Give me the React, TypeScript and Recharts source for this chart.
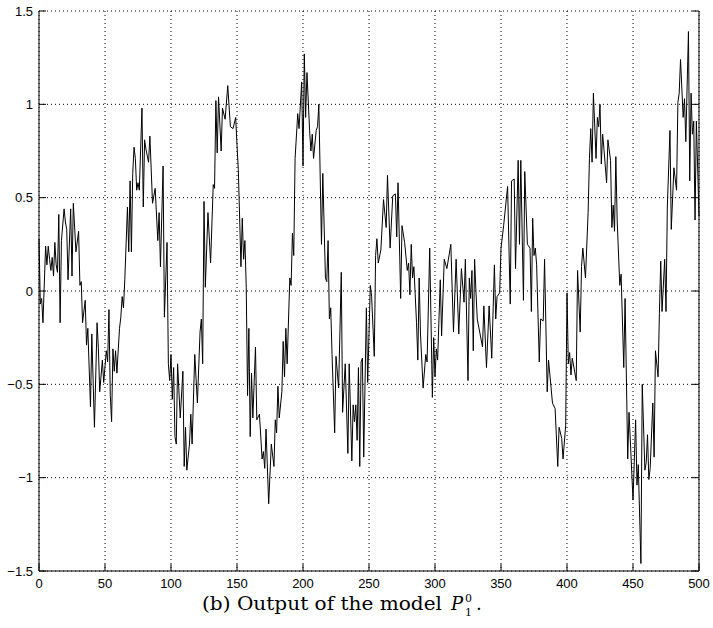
import { CartesianGrid, Line, LineChart, XAxis, YAxis } from "recharts";

// sample index (x) and model output (y)
const SAMPLE_T = [
  0, 1, 2, 3, 5, 6, 7, 8, 9, 10, 11, 12, 13, 14, 15, 16, 17, 19, 20, 21, 22, 24, 25, 26, 28, 30, 31, 32, 33, 35,
  36, 37, 39, 40, 42, 44, 45, 46, 48, 49, 51, 52, 53, 54, 55, 56, 57, 58, 59, 61, 62, 63, 64, 65, 67, 68, 69, 70,
  71, 72, 73, 74, 75, 76, 78, 79, 80, 81, 83, 84, 86, 88, 90, 91, 92, 94, 95, 97, 98, 99, 100, 101, 102, 103, 104,
  105, 107, 109, 110, 111, 112, 114, 115, 116, 118, 120, 122, 123, 124, 125, 126, 128, 130, 132, 133, 134, 135,
  136, 138, 139, 141, 143, 145, 147, 149, 150, 151, 153, 154, 155, 156, 157, 158, 159, 160, 161, 162, 164, 165,
  167, 169, 170, 171, 172, 174, 176, 178, 179, 180, 181, 182, 184, 185, 186, 187, 188, 190, 191, 192, 193, 194,
  196, 197, 199, 200, 201, 202, 203, 205, 206, 207, 208, 210, 211, 212, 214, 215, 217, 218, 219, 220, 221, 222,
  224, 225, 227, 229, 230, 232, 234, 235, 237, 238, 239, 240, 241, 242, 243, 244, 245, 246, 248, 249, 251, 252,
  254, 255, 256, 257, 259, 261, 263, 264, 266, 268, 270, 271, 272, 274, 275, 277, 279, 280, 281, 282, 283, 284,
  286, 287, 288, 289, 291, 293, 294, 296, 298, 299, 300, 301, 302, 304, 305, 307, 309, 312, 314, 316, 318, 320,
  322, 323, 325, 326, 327, 328, 329, 330, 331, 332, 336, 337, 339, 341, 343, 345, 346, 347, 349, 350, 352, 355,
  357, 358, 360, 361, 363, 364, 365, 367, 368, 370, 372, 373, 374, 375, 376, 377, 379, 380, 382, 383, 385, 386,
  389, 391, 393, 394, 396, 397, 399, 400, 401, 402, 403, 404, 407, 408, 410, 411, 412, 414, 416, 417, 418, 419,
  420, 422, 423, 424, 425, 426, 427, 428, 430, 431, 433, 434, 435, 436, 437, 438, 440, 441, 443, 444, 446, 447,
  450, 452, 453, 454, 456, 457, 459, 460, 461, 462, 463, 465, 466, 467, 469, 470, 471, 472, 474, 475, 476, 478,
  479, 481, 483, 484, 485, 486, 488, 489, 490, 492, 493, 494, 495, 496, 497, 498, 500,
];

const OUTPUT = [
  0.28, -0.07, -0.04, -0.17, 0.24, 0.14, 0.24, 0.17, 0.11, 0.18, 0.08, 0.26, 0.14, 0.1, 0.41, -0.17, 0.27, 0.44,
  0.37, 0.33, 0.06, 0.44, 0.08, 0.47, 0.21, 0.32, 0.03, 0.05, -0.17, -0.05, -0.29, -0.2, -0.62, -0.23, -0.73,
  -0.17, -0.31, -0.54, -0.37, -0.49, -0.32, -0.38, -0.1, -0.56, -0.7, -0.31, -0.43, -0.32, -0.44, -0.2, -0.14,
  -0.03, -0.09, 0.06, 0.45, 0.21, 0.59, 0.21, 0.63, 0.77, 0.71, 0.54, 0.58, 0.54, 0.98, 0.45, 0.81, 0.76, 0.69,
  0.83, 0.47, 0.55, 0.27, 0.42, 0.13, 0.67, -0.14, 0.26, -0.39, -0.48, -0.34, -0.58, -0.41, -0.78, -0.82, -0.39,
  -0.68, -0.43, -0.94, -0.73, -0.96, -0.82, -0.66, -0.82, -0.34, -0.6, -0.22, -0.15, -0.39, 0.48, 0.02, 0.42,
  0.15, 0.57, 0.55, 1.02, 0.74, 1.04, 0.75, 0.98, 0.92, 1.1, 0.88, 0.87, 0.93, 0.78, 0.65, 0.13, 0.39, 0.17, 0.27,
  0.02, -0.56, -0.2, -0.78, -0.44, -0.68, -0.3, -0.69, -0.66, -0.9, -0.86, -0.95, -0.74, -1.14, -0.82, -0.94,
  -0.69, -0.76, -0.51, -0.68, -0.54, -0.27, -0.46, -0.2, -0.39, 0.07, 0.03, 0.31, 0.19, 0.71, 0.95, 0.87, 1.12,
  0.67, 1.27, 0.93, 1.17, 0.86, 0.75, 0.84, 0.71, 0.86, 0.88, 1.0, 0.25, 0.63, 0.07, 0.05, 0.27, -0.15, -0.09,
  -0.34, -0.76, -0.35, -0.52, 0.1, -0.65, -0.39, -0.87, -0.39, -0.91, -0.61, -0.7, -0.61, -0.8, -0.41, -0.94,
  -0.38, -0.36, -0.89, -0.09, -0.49, 0.03, -0.03, -0.35, 0.19, 0.28, 0.15, 0.22, 0.49, 0.34, 0.62, 0.23, 0.51,
  0.52, 0.29, 0.58, -0.04, 0.35, 0.26, 0.11, 0.15, -0.02, 0.25, 0.07, 0.13, -0.17, -0.37, 0.07, -0.23, -0.52,
  -0.34, -0.38, 0.23, -0.57, -0.25, -0.46, -0.31, -0.37, 0.06, -0.24, 0.17, 0.12, 0.25, -0.22, 0.17, -0.23, 0.12,
  -0.06, 0.17, -0.48, 0.07, -0.04, 0.11, -0.32, 0.17, 0, -0.15, -0.3, -0.08, -0.41, -0.08, -0.36, 0.14, -0.15,
  -0.03, -0.01, 0.23, 0.35, 0.56, -0.07, 0.59, 0.6, 0.12, 0.7, 0.25, 0.7, -0.05, 0.64, 0.25, 0.23, -0.11, 0.39,
  0.19, 0.23, 0.14, -0.38, -0.15, -0.16, 0.17, -0.54, -0.37, -0.6, -0.63, -0.94, -0.73, -0.79, -0.9, -0.72, -0.01,
  -0.39, -0.33, -0.45, -0.36, -0.48, 0.11, -0.22, 0.13, 0.23, 0.07, 0.42, 0.71, 0.87, 0.69, 1.06, 0.71, 0.93, 0.88,
  1.0, 0.68, 0.84, 0.76, 0.58, 0.81, 0.7, 0.34, 0.46, 0.32, 0.72, 0.38, 0.03, 0.09, -0.41, -0.04, -0.9, -0.65,
  -1.12, -0.69, -1.04, -0.93, -1.46, -0.5, -0.96, -0.92, -0.77, -1.01, -0.95, -0.6, -0.89, -0.32, -0.46, -0.12,
  0.16, -0.11, 0.17, -0.11, 0.45, 0.86, 0.33, 0.66, 0.54, 1.01, 1.06, 1.24, 0.93, 1.03, 0.8, 1.39, 0.59, 1.06, 0.84,
  0.91, 0.38, 0.91, 0.4,
];

const X_TICKS = [0, 50, 100, 150, 200, 250, 300, 350, 400, 450, 500];
const Y_TICKS = [-1.5, -1, -0.5, 0, 0.5, 1, 1.5];

const data = SAMPLE_T.map((t, i) => ({ t, y: OUTPUT[i] }));

const FONT = "'Liberation Sans', Arial, Helvetica, sans-serif";
const SERIF = "'DejaVu Serif', serif";
const TICK_LEN = 7;

const fmt = (v: number) => String(v).replace("-", "\u2212");

function BottomTick({ x, y, payload }: any) {
  return (
    <g>
      <line x1={x} x2={x} y1={y} y2={y - TICK_LEN} stroke="#000" />
      <text x={x} y={y + 17} textAnchor="middle" fontSize={13} fontFamily={FONT} fill="#000">
        {fmt(payload.value)}
      </text>
    </g>
  );
}

function TopTick({ x, y }: any) {
  return <line x1={x} x2={x} y1={y} y2={y + TICK_LEN} stroke="#000" />;
}

function LeftTick({ x, y, payload }: any) {
  return (
    <g>
      <line x1={x} x2={x + TICK_LEN} y1={y} y2={y} stroke="#000" />
      <text x={x - 6} y={y + 4.5} textAnchor="end" fontSize={13} fontFamily={FONT} fill="#000">
        {fmt(payload.value)}
      </text>
    </g>
  );
}

function RightTick({ x, y }: any) {
  return <line x1={x} x2={x - TICK_LEN} y1={y} y2={y} stroke="#000" />;
}

export default function App() {
  return (
    <div style={{ position: "absolute", left: 0, top: 0, width: 713, height: 628, background: "#fff" }}>
      <LineChart width={713} height={628} data={data} margin={{ top: 11, right: 0, bottom: 0, left: 0 }}>
        <CartesianGrid stroke="#000" strokeDasharray="1 3" />
        <XAxis
          dataKey="t"
          type="number"
          domain={[0, 500]}
          ticks={X_TICKS}
          interval={0}
          height={57}
          tickSize={0}
          tickMargin={0}
          axisLine={{ stroke: "#000" }}
          tickLine={false}
          tick={<BottomTick />}
        />
        <XAxis
          xAxisId="top"
          orientation="top"
          type="number"
          domain={[0, 500]}
          allowDataOverflow
          ticks={X_TICKS}
          interval={0}
          height={0}
          tickSize={0}
          tickMargin={0}
          axisLine={{ stroke: "#000" }}
          tickLine={false}
          tick={<TopTick />}
        />
        <YAxis
          type="number"
          domain={[-1.5, 1.5]}
          ticks={Y_TICKS}
          interval={0}
          width={39}
          tickSize={0}
          tickMargin={0}
          axisLine={{ stroke: "#000" }}
          tickLine={false}
          tick={<LeftTick />}
        />
        <YAxis
          yAxisId="right"
          orientation="right"
          type="number"
          domain={[-1.5, 1.5]}
          allowDataOverflow
          ticks={Y_TICKS}
          interval={0}
          width={14}
          tickSize={0}
          tickMargin={0}
          axisLine={{ stroke: "#000" }}
          tickLine={false}
          tick={<RightTick />}
        />
        <Line
          type="linear"
          dataKey="y"
          stroke="#000"
          strokeWidth={1}
          dot={false}
          isAnimationActive={false}
        />
      </LineChart>
      {/* caption: (b) Output of the model P_1^0. */}
      <svg
        width={713}
        height={628}
        style={{ position: "absolute", left: 0, top: 0, pointerEvents: "none" }}
      >
        <g fontFamily={SERIF} fill="#000">
          <text x={202} y={610} fontSize={18} textLength={240} lengthAdjust="spacingAndGlyphs">
            (b) Output of the model
          </text>
          <text x={451} y={610} fontSize={18} fontStyle="italic">
            P
          </text>
          <text x={465} y={602} fontSize={11}>
            0
          </text>
          <text x={465} y={616} fontSize={11}>
            1
          </text>
          <text x={476} y={610} fontSize={18}>
            .
          </text>
        </g>
      </svg>
    </div>
  );
}
